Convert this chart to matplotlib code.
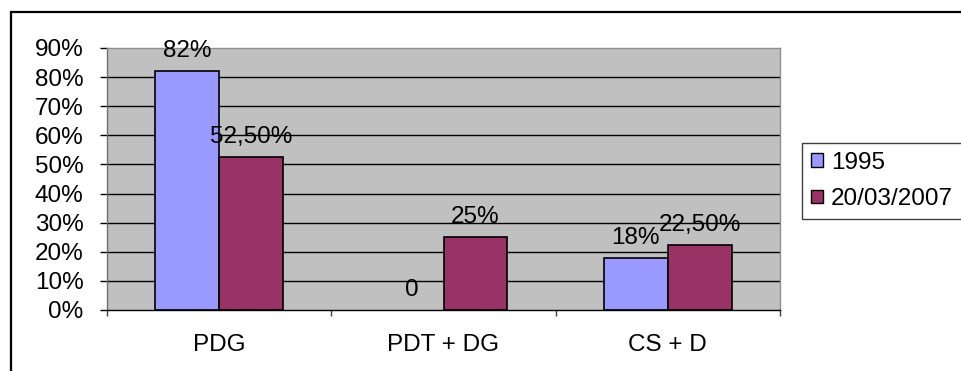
import matplotlib
matplotlib.use("Agg")
import matplotlib.pyplot as plt
from matplotlib.patches import Patch, Rectangle
import numpy as np

categories = ["PDG", "PDT + DG", "CS + D"]
series_names = ["1995", "20/03/2007"]
values_1995 = [0.82, 0.0, 0.18]
values_2007 = [0.525, 0.25, 0.225]
labels_1995 = ["82%", "0", "18%"]
labels_2007 = ["52,50%", "25%", "22,50%"]
y_ticks = [0.0, 0.1, 0.2, 0.3, 0.4, 0.5, 0.6, 0.7, 0.8, 0.9]
y_tick_labels = ["0%", "10%", "20%", "30%", "40%", "50%", "60%", "70%", "80%", "90%"]

colors = ["#9999FF", "#993366"]
FONT = "Liberation Sans"
FS = 17.5

W, H = 962, 371
fig = plt.figure(figsize=(W / 100, H / 100), dpi=100)
fig.patch.set_facecolor("white")

# outer chart frame (runs off the right and bottom edges)
fig.add_artist(Rectangle((11 / W, -0.1), 1.2, 1 - 12 / H + 0.1,
                         transform=fig.transFigure, fill=False,
                         edgecolor="black", linewidth=1.6))

left, right, top, bottom = 107, 780, 48, 310
ax = fig.add_axes([left / W, 1 - bottom / H, (right - left) / W, (bottom - top) / H])
ax.set_facecolor("#C0C0C0")
ax.set_xlim(-0.5, len(categories) - 0.5)
ax.set_ylim(0, 0.9)

# horizontal gridlines
for y in y_ticks[1:-1]:
    ax.axhline(y, color="black", linewidth=1.0, zorder=1)

x = np.arange(len(categories))
bw = 0.285
edge_1995 = [1.2 if v > 0 else 0 for v in values_1995]
edge_2007 = [1.2 if v > 0 else 0 for v in values_2007]
b1 = ax.bar(x - bw / 2, values_1995, width=bw, color=colors[0],
            edgecolor="black", linewidth=edge_1995, zorder=2)
b2 = ax.bar(x + bw / 2, values_2007, width=bw, color=colors[1],
            edgecolor="black", linewidth=edge_2007, zorder=2)

for bars, vals, labs in ((b1, values_1995, labels_1995), (b2, values_2007, labels_2007)):
    for rect, v, lab in zip(bars, vals, labs):
        ax.annotate(lab, (rect.get_x() + rect.get_width() / 2, v),
                    xytext=(0, 20), textcoords="offset pixels",
                    ha="center", va="center", fontsize=FS, family=FONT,
                    zorder=3, annotation_clip=False)

ax.set_yticks(y_ticks)
ax.set_yticklabels(y_tick_labels, fontsize=FS, family=FONT)
ax.tick_params(axis="y", direction="out", length=5, width=1, color="black", pad=12)

ax.set_xticks(x)
ax.set_xticklabels(categories, fontsize=FS, family=FONT)
ax.tick_params(axis="x", which="major", length=0, pad=17)
ax.set_xticks(np.arange(-0.5, len(categories), 1.0), minor=True)
ax.tick_params(axis="x", which="minor", direction="out", length=4.5, width=1, color="#404040")

ax.spines["top"].set_color("#909090")
ax.spines["right"].set_color("#909090")
ax.spines["left"].set_color("#707070")
ax.spines["bottom"].set_color("black")
for s in ax.spines.values():
    s.set_linewidth(1.0)

handles = [Patch(facecolor=colors[0], edgecolor="black", linewidth=1.0),
           Patch(facecolor=colors[1], edgecolor="black", linewidth=1.0)]
leg = fig.legend(handles, series_names, loc="upper left",
                 bbox_to_anchor=(802 / W, 1 - 143 / H),
                 prop={"family": FONT, "size": FS},
                 frameon=True, fancybox=False, framealpha=1,
                 edgecolor="#404040", handlelength=0.5, handleheight=0.5,
                 handletextpad=0.35, borderpad=0.35, labelspacing=0.6,
                 borderaxespad=0)
leg.get_frame().set_linewidth(1.0)

fig.savefig("out.png", dpi=100)
